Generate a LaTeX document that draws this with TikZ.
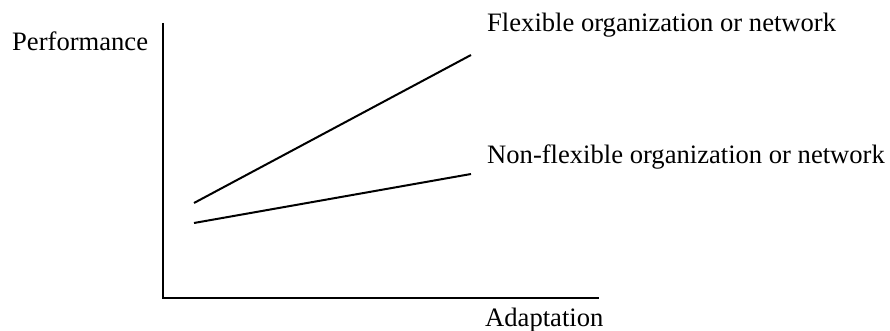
\documentclass[tikz,border=0pt]{standalone}
\usepackage{fontspec}
\setmainfont{Liberation Serif}
\begin{document}
\begin{tikzpicture}[x=1pt,y=-1pt,
  lbl/.style={anchor=base west,inner sep=0pt,font=\fontsize{26.6}{30}\selectfont},
  axis/.style={line width=2pt},
  curve/.style={line width=2pt}]
\useasboundingbox (0,0) rectangle (890,331);
\coordinate (top) at (163,23);
\coordinate (origin) at (163,298);
\coordinate (right) at (599,298);
\coordinate (f1) at (194,203);
\coordinate (f2) at (471,55);
\coordinate (n1) at (194,223);
\coordinate (n2) at (471,174);
\draw[axis] (top) -- (origin) -- (right);
\draw[curve] (f1) -- (f2);
\draw[curve] (n1) -- (n2);
\node[lbl] (perf) at (12,51) {Performance};
\node[lbl] (flex) at (487,32) {Flexible organization or network};
\node[lbl] (nonflex) at (487,164) {Non-flexible organization or network};
\node[lbl] (adapt) at (485,326) {Adaptation};
\end{tikzpicture}
\end{document}
